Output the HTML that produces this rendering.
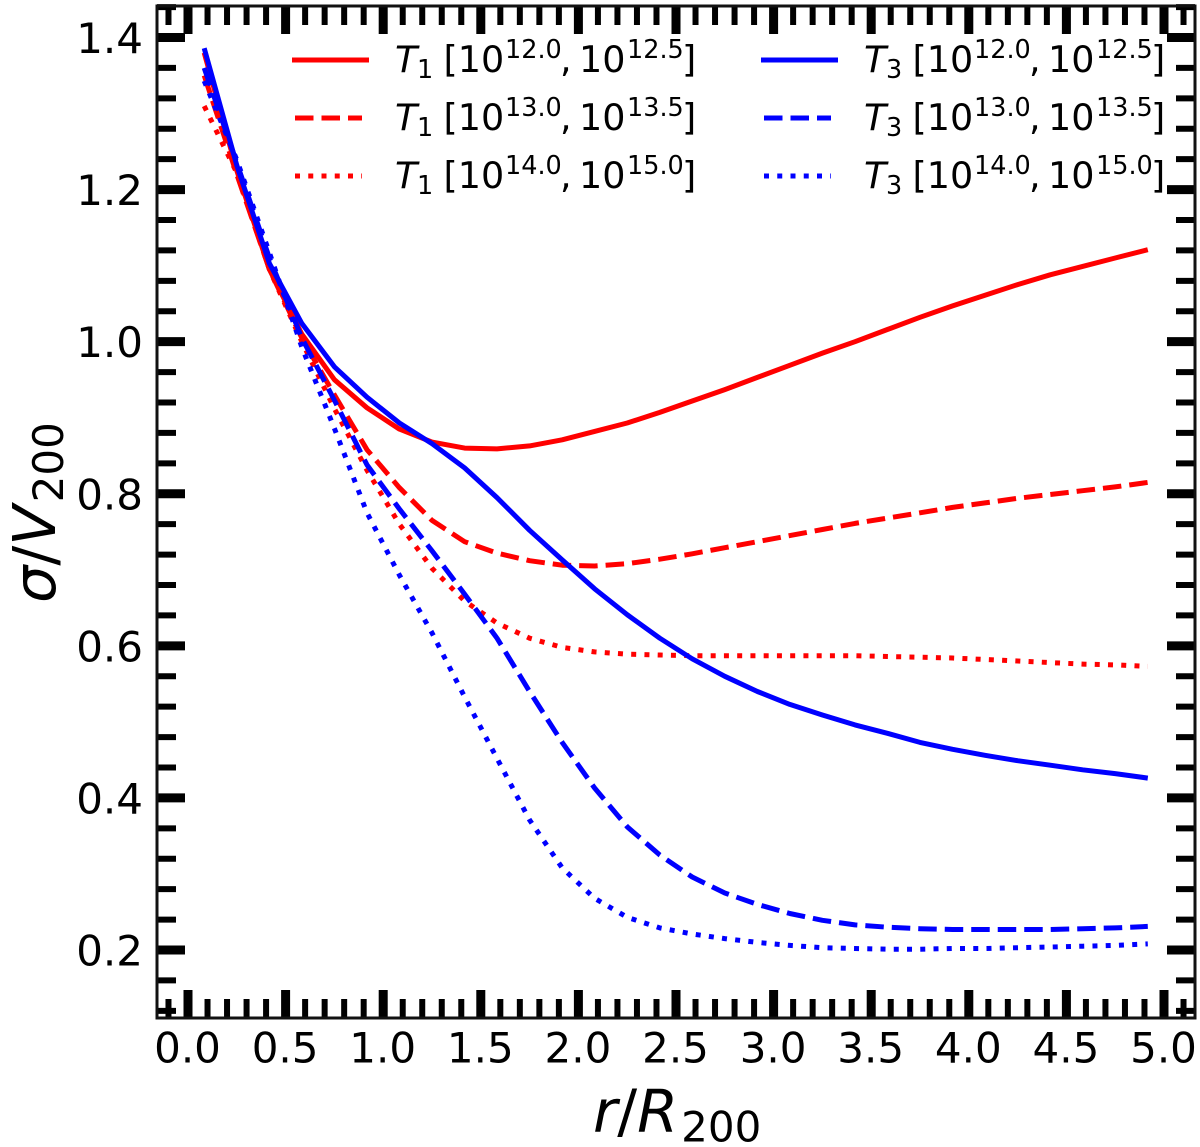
<!DOCTYPE html>
<html>
<head>
<meta charset="utf-8">
<style>
html,body{margin:0;padding:0;background:#fff;width:1200px;height:1147px;overflow:hidden}
svg{display:block}
text{font-family:"DejaVu Sans","Liberation Sans",sans-serif;fill:#000}
</style>
</head>
<body>
<svg id="chart" xmlns="http://www.w3.org/2000/svg" width="1200" height="1147" viewBox="0 0 1200 1147">
  <rect x="0" y="0" width="1200" height="1147" fill="#fff"/>
  <g id="ticks"></g>
  <g id="series"></g>
  <rect x="157" y="6" width="1038" height="1012" fill="none" stroke="#111" stroke-width="3"/>
  <g id="tick-labels"></g>
  <text x="593" y="1131.5" font-size="59"><tspan font-style="italic">r</tspan><tspan>/</tspan><tspan font-style="italic">R</tspan><tspan font-size="42" dy="10" dx="3">200</tspan></text>
  <text transform="translate(55,603) rotate(-90)" font-size="59"><tspan font-style="italic">σ</tspan><tspan>/</tspan><tspan font-style="italic">V</tspan><tspan font-size="42" dy="8" dx="3">200</tspan></text>
  <g id="legend"></g>
</svg>
<script>
var radii = [0.083,0.25,0.417,0.583,0.75,0.917,1.083,1.25,1.417,1.583,1.75,1.917,2.083,2.25,2.417,2.583,2.75,2.917,3.083,3.25,3.417,3.583,3.75,3.917,4.083,4.25,4.417,4.583,4.75,4.917];
var t1Low = [1.38,1.225,1.095,1.01,0.95,0.913,0.885,0.868,0.86,0.859,0.863,0.871,0.882,0.893,0.907,0.922,0.937,0.953,0.969,0.985,1.0,1.016,1.032,1.047,1.061,1.075,1.088,1.099,1.11,1.121];
var t1Mid = [1.35,1.22,1.095,1.005,0.93,0.858,0.808,0.765,0.737,0.722,0.712,0.706,0.705,0.708,0.714,0.721,0.729,0.737,0.745,0.753,0.761,0.768,0.775,0.782,0.788,0.794,0.799,0.804,0.809,0.815];
var t1High = [1.31,1.222,1.095,1.0,0.912,0.831,0.76,0.702,0.659,0.63,0.61,0.598,0.592,0.589,0.588,0.587,0.587,0.587,0.587,0.587,0.587,0.586,0.585,0.584,0.582,0.58,0.578,0.576,0.575,0.573];
var t3Low = [1.386,1.232,1.103,1.024,0.967,0.927,0.893,0.866,0.834,0.795,0.752,0.713,0.675,0.641,0.61,0.583,0.56,0.54,0.523,0.509,0.496,0.485,0.473,0.464,0.456,0.449,0.443,0.437,0.432,0.426];
var t3Mid = [1.36,1.235,1.11,1.005,0.923,0.838,0.78,0.725,0.668,0.61,0.54,0.473,0.413,0.362,0.325,0.296,0.275,0.26,0.248,0.239,0.233,0.23,0.228,0.227,0.227,0.227,0.227,0.228,0.229,0.231];
var t3High = [1.343,1.239,1.117,0.993,0.886,0.775,0.693,0.617,0.533,0.452,0.371,0.308,0.268,0.243,0.229,0.221,0.215,0.21,0.206,0.203,0.202,0.201,0.201,0.202,0.202,0.203,0.204,0.205,0.206,0.208];

var xMajorTicks = ["0.0","0.5","1.0","1.5","2.0","2.5","3.0","3.5","4.0","4.5","5.0"];
var yMajorTicks = ["0.2","0.4","0.6","0.8","1.0","1.2","1.4"];
var xMinorTicks = [-0.1,0.1,0.2,0.3,0.4,0.6,0.7,0.8,0.9,1.1,1.2,1.3,1.4,1.6,1.7,1.8,1.9,2.1,2.2,2.3,2.4,2.6,2.7,2.8,2.9,3.1,3.2,3.3,3.4,3.6,3.7,3.8,3.9,4.1,4.2,4.3,4.4,4.6,4.7,4.8,4.9,5.1];
var yMinorTicks = [0.12,0.16,0.24,0.28,0.32,0.36,0.44,0.48,0.52,0.56,0.64,0.68,0.72,0.76,0.84,0.88,0.92,0.96,1.04,1.08,1.12,1.16,1.24,1.28,1.32,1.36,1.44];
var seriesNames = ["t1-low-mass","t1-mid-mass","t1-high-mass","t3-low-mass","t3-mid-mass","t3-high-mass"];
var seriesValues = [t1Low,t1Mid,t1High,t3Low,t3Mid,t3High];
var seriesColors = ["#ff0000","#ff0000","#ff0000","#0000ff","#0000ff","#0000ff"];
var seriesDash = ["none","18.5 8","5 8.25","none","18.5 8","5 8.25"];
var legendTypes = ["1","1","1","3","3","3"];
var legendLower = ["12.0","13.0","14.0","12.0","13.0","14.0"];
var legendUpper = ["12.5","13.5","15.0","12.5","13.5","15.0"];

var NS = "http://www.w3.org/2000/svg";
function xScale(v){ return 188 + 195.2 * v; }
function yScale(v){ return 950 - 760.4 * (v - 0.2); }
function make(tag, attrs, parent){
  var el = document.createElementNS(NS, tag);
  for (var k in attrs) el.setAttribute(k, attrs[k]);
  parent.appendChild(el);
  return el;
}
var tickGroup = document.getElementById("ticks");
var labelGroup = document.getElementById("tick-labels");
var seriesGroup = document.getElementById("series");
var legendGroup = document.getElementById("legend");

function xTick(v, len, w){
  var x = xScale(v);
  var a = make("line", {x1:x, x2:x, y1:1018, y2:1018-len, stroke:"#000", "stroke-width":w}, tickGroup);
  
  
  var b = make("line", {x1:x, x2:x, y1:6, y2:6+len, stroke:"#000", "stroke-width":w}, tickGroup);
  
  
}
function yTick(v, len, w){
  var y = yScale(v);
  var a = make("line", {x1:157, x2:157+len, y1:y, y2:y, stroke:"#000", "stroke-width":w}, tickGroup);
  
  
  var b = make("line", {x1:1195, x2:1195-len, y1:y, y2:y, stroke:"#000", "stroke-width":w}, tickGroup);
  
  
}
xMinorTicks.forEach(function(v){ xTick(v, 19, 6); });
yMinorTicks.forEach(function(v){ yTick(v, 19, 6); });
xMajorTicks.forEach(function(s){
  var v = parseFloat(s);
  xTick(v, 28, 9);
  var t = make("text", {x:xScale(v) - 0.5, y:1062.5, "font-size":42, "text-anchor":"middle"}, labelGroup);
  
  
  t.textContent = s;
});
yMajorTicks.forEach(function(s){
  var v = parseFloat(s);
  yTick(v, 28, 9);
  var t = make("text", {x:143, y:yScale(v)+15.5, "font-size":42, "text-anchor":"end"}, labelGroup);
  
  
  t.textContent = s;
});

seriesValues.forEach(function(vals, i){
  var pts = vals.map(function(v, j){ return xScale(radii[j]).toFixed(1) + "," + yScale(v).toFixed(1); }).join(" ");
  var p = make("polyline", {points:pts, fill:"none", stroke:seriesColors[i], "stroke-width":5, "stroke-linejoin":"round"}, seriesGroup);
  if (seriesDash[i] !== "none") p.setAttribute("stroke-dasharray", seriesDash[i]);
  
  
});

legendTypes.forEach(function(sub, i){
  var col = i < 3 ? 0 : 1;
  var row = i % 3;
  var ox = col * 469;
  var y = 60 + row * 58;
  var x1 = 292 + ox + (row === 0 ? 0 : 3);
  var x2 = 369 + ox - (row === 0 ? 0 : 7);
  var s = make("line", {x1:x1, x2:x2, y1:y, y2:y, stroke:seriesColors[i], "stroke-width":5}, legendGroup);
  if (seriesDash[i] !== "none") s.setAttribute("stroke-dasharray", seriesDash[i]);
  
  
  var base = y + 12;
  var t = make("text", {"font-size":36.5}, legendGroup);
  
  
  var parts = [
    ["T", {"font-style":"italic", x:395 + ox, y:base}],
    [sub, {"font-size":25.5, x:417 + ox, y:base + 6}],
    ["[10", {x:443.5 + ox, y:base}],
    [legendLower[i], {"font-size":25.5, x:505 + ox, y:base - 14}],
    [",", {x:560 + ox, y:base}],
    ["10", {x:579 + ox, y:base}],
    [legendUpper[i], {"font-size":25.5, x:627 + ox, y:base - 14}],
    ["]", {x:682 + ox, y:base}]
  ];
  parts.forEach(function(p){
    var ts = make("tspan", p[1], t);
    ts.textContent = p[0];
  });
});
</script>
</body>
</html>
